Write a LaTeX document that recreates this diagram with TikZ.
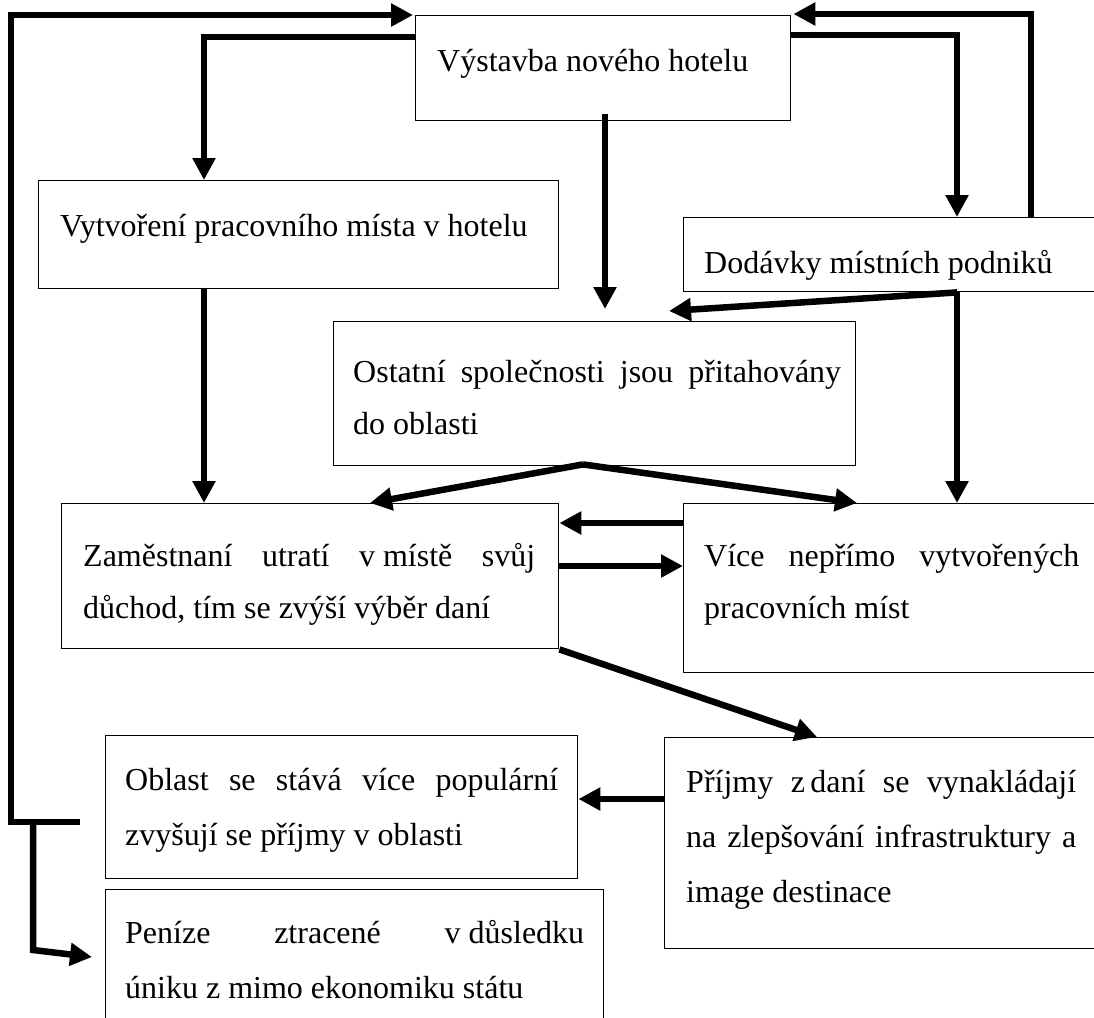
\documentclass[tikz,border=0pt]{standalone}
\usepackage{fontspec}
\setmainfont{Liberation Serif}
\usetikzlibrary{arrows.meta,calc}
\begin{document}
\begin{tikzpicture}[x=1pt,y=-1pt,
 box/.style={draw,line width=1.4pt,inner sep=0pt,anchor=north west},
 conn/.style={line width=6.5pt,-{Triangle[length=22pt,width=22pt]}},
 txt/.style={anchor=base west,inner sep=0pt,font=\fontsize{32}{52}\selectfont},
 txtb/.style={anchor=base west,inner sep=0pt,font=\fontsize{32}{55}\selectfont}]
\useasboundingbox (0,0) rectangle (1094,1017);
\clip (0,0) rectangle (1094,1017);
\fill[white] (0,0) rectangle (1094,1017);
% boxes
\node[box,minimum width=375pt,minimum height=105pt] (b1) at (415,15) {};
\node[box,minimum width=520pt,minimum height=108pt] (b2) at (38,180) {};
\node[box,minimum width=420pt,minimum height=74pt] (b3) at (683,217) {};
\node[box,minimum width=522pt,minimum height=144pt] (b4) at (333,321) {};
\node[box,minimum width=497pt,minimum height=145pt] (b5) at (61,503) {};
\node[box,minimum width=420pt,minimum height=169pt] (b6) at (683,503) {};
\node[box,minimum width=472pt,minimum height=143pt] (b7) at (105,735) {};
\node[box,minimum width=498pt,minimum height=140pt] (b8) at (105,889) {};
\node[box,minimum width=440pt,minimum height=211pt] (b9) at (664,737) {};
% texts
\node[txt] (t1) at (437,71) {Výstavba nového hotelu};
\node[txt] (t2) at (60,236) {Vytvoření pracovního místa v hotelu};
\node[txt] (t3) at (704,273) {Dodávky místních podniků};
\node[txt] (t4) at (353,382) {\parbox[t]{488pt}{\makebox[488pt][s]{Ostatní společnosti jsou přitahovány}\\do oblasti}};
\node[txt] (t5) at (83,566) {\parbox[t]{452pt}{\makebox[452pt][s]{Zaměstnaní utratí \mbox{v místě} svůj}\\důchod, tím se zvýší výběr daní}};
\node[txt] (t6) at (704,566) {\parbox[t]{375pt}{\makebox[375pt][s]{Více nepřímo vytvořených}\\pracovních míst}};
\node[txtb] (t7) at (125,790) {\parbox[t]{433pt}{\makebox[433pt][s]{Oblast se stává více populární}\\zvyšují se příjmy v oblasti}};
\node[txtb] (t8) at (125,943) {\parbox[t]{459pt}{\makebox[459pt][s]{Peníze ztracené \mbox{v důsledku}}\\úniku z mimo ekonomiku státu}};
\node[txtb] (t9) at (686,792) {\parbox[t]{390pt}{\makebox[390pt][s]{Příjmy \mbox{z\,daní} se vynakládají}\\\makebox[390pt][s]{na zlepšování infrastruktury a}\\image destinace}};
% connectors
\coordinate (lp) at (80,822);
\coordinate (br) at (33,822);
\draw[conn] (lp) -- (11,822) -- (11,15) -- ($(b1.north west)+(-2,0)$);
\draw[conn] (br) -- (33,950) -- ($(b8.north west)+(-13,68)$);
\draw[conn] ($(b1.north west)+(0,22)$) -- (204,37) -- ($(b2.north west)+(166,0)$);
\draw[conn] ($(b1.north east)+(0,20)$) -- (957,35) -- ($(b3.north west)+(274,0)$);
\draw[conn] ($(b3.north west)+(348,0)$) -- (1031,14) -- ($(b1.north east)+(2,-1)$);
\draw[conn] ($(b1.south west)+(190,-7)$) -- ($(b4.north west)+(272,-12)$);
\draw[conn] ($(b3.south west)+(274,0)$) -- ($(b4.north west)+(336,-10)$);
\draw[conn] ($(b3.south west)+(274,0)$) -- ($(b6.north west)+(274,0)$);
\draw[conn] ($(b2.south west)+(166,0)$) -- ($(b5.north west)+(143,0)$);
\coordinate (sp) at ($(b4.south west)+(250,-2)$);
\draw[conn] (sp) -- ($(b5.north west)+(309,0)$);
\draw[conn] (sp) -- ($(b6.north west)+(174,0)$);
\draw[conn] ($(b6.north west)+(0,20)$) -- ($(b5.north east)+(0,20)$);
\draw[conn] ($(b5.north east)+(0,63)$) -- ($(b6.north west)+(0,63)$);
\draw[conn] (b5.south east) -- ($(b9.north west)+(153,0)$);
\draw[conn] ($(b9.north west)+(0,62)$) -- ($(b7.north east)+(0,64)$);
\end{tikzpicture}
\end{document}
